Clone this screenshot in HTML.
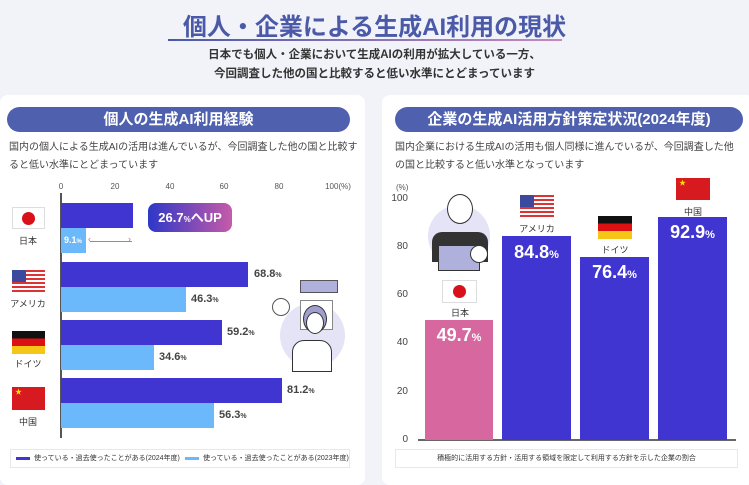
<!DOCTYPE html>
<html><head><meta charset="utf-8"><style>
*{margin:0;padding:0;box-sizing:border-box}
body{width:749px;height:478px;overflow:hidden;background:#f2f3f9;font-family:"Liberation Sans","Noto Sans CJK JP",sans-serif;position:relative;color:#333}
.a{position:absolute}
.card{position:absolute;background:#fff;border-radius:8px}
.pill{position:absolute;background:#4f60ae;border-radius:14px;color:#fff;font-weight:bold;font-size:15px;text-align:center;line-height:25px}
.desc{position:absolute;font-size:10px;line-height:18px;color:#444}
.bar{position:absolute}
.d{background:#4035d1}.l{background:#6bb8fb}
.v{position:absolute;font-size:11px;font-weight:bold;color:#444}
.v small{font-size:7px}
.tk{position:absolute;font-size:8px;color:#555;transform:translateX(-50%)}
.cn{position:absolute;font-size:9px;color:#333;width:40px;text-align:center}
.bv{position:absolute;color:#fff;font-weight:bold;font-size:18px;text-align:center}
.bv small{font-size:11px}
.yl{position:absolute;font-size:10px;color:#444;width:20px;text-align:right}
</style></head><body>
<div class="a" style="left:0;top:7px;width:749px;text-align:center;font-size:24px;font-weight:bold;color:#4a5aa8">個人・企業による生成AI利用の現状</div>
<div class="a" style="left:168px;top:39px;width:394px;height:2px;background:linear-gradient(90deg,#4a5aa8,#c58ac0)"></div>
<div class="a" style="left:0;top:46px;width:749px;text-align:center;font-size:11.5px;line-height:19px;color:#333;font-weight:bold">日本でも個人・企業において生成AIの利用が拡大している一方、<br>今回調査した他の国と比較すると低い水準にとどまっています</div>

<div class="card" style="left:0;top:95px;width:365px;height:390px"></div>
<div class="card" style="left:382px;top:95px;width:372px;height:390px"></div>
<div class="pill" style="left:7px;top:107px;width:343px">個人の生成AI利用経験</div>
<div class="pill" style="left:395px;top:107px;width:348px">企業の生成AI活用方針策定状況(2024年度)</div>
<div class="desc" style="left:9px;top:139px;width:350px">国内の個人による生成AIの活用は進んでいるが、今回調査した他の国と比較すると低い水準にとどまっています</div>
<div class="desc" style="left:395px;top:139px;width:348px">国内企業における生成AIの活用も個人同様に進んでいるが、今回調査した他の国と比較すると低い水準となっています</div>

<!-- left chart -->
<div class="tk" style="left:61px;top:182px">0</div>
<div class="tk" style="left:115px;top:182px">20</div>
<div class="tk" style="left:170px;top:182px">40</div>
<div class="tk" style="left:224px;top:182px">60</div>
<div class="tk" style="left:279px;top:182px">80</div>
<div class="tk" style="left:338px;top:182px">100(%)</div>
<div class="a" style="left:60px;top:193px;width:2px;height:245px;background:#555"></div>
<div class="bar d" style="left:61px;top:203px;width:72px;height:25px"></div>
<div class="bar l" style="left:61px;top:228px;width:25px;height:25px"></div>
<div class="a" style="left:64px;top:235px;font-size:9px;font-weight:bold;color:#fff">9.1<small style="font-size:6px">%</small></div>
<div class="a" style="left:90px;top:241px;width:42px;height:1px;background:#d6679f"></div>
<div class="a" style="left:88px;top:234px;font-size:9px;color:#d6679f">‹</div>
<div class="a" style="left:128px;top:234px;font-size:9px;color:#d6679f">›</div>
<div class="a" style="left:148px;top:203px;width:84px;height:29px;border-radius:8px;background:linear-gradient(90deg,#2d38c8,#c65aa8);color:#fff;font-size:13px;font-weight:bold;text-align:center;line-height:29px">26.7<small style="font-size:8px">%</small>へUP</div>
<div class="bar d" style="left:61px;top:262px;width:187px;height:25px"></div>
<div class="bar l" style="left:61px;top:287px;width:125px;height:25px"></div>
<div class="bar d" style="left:61px;top:320px;width:161px;height:25px"></div>
<div class="bar l" style="left:61px;top:345px;width:93px;height:25px"></div>
<div class="bar d" style="left:61px;top:378px;width:221px;height:25px"></div>
<div class="bar l" style="left:61px;top:403px;width:153px;height:25px"></div>
<div class="v" style="left:254px;top:268px">68.8<small>%</small></div>
<div class="v" style="left:191px;top:293px">46.3<small>%</small></div>
<div class="v" style="left:227px;top:326px">59.2<small>%</small></div>
<div class="v" style="left:159px;top:351px">34.6<small>%</small></div>
<div class="v" style="left:287px;top:384px">81.2<small>%</small></div>
<div class="v" style="left:219px;top:409px">56.3<small>%</small></div>
<!-- flags -->
<div class="a" style="left:12px;top:207px;width:33px;height:22px;border:1px solid #ddd;background:#fff"><div class="a" style="left:9px;top:4px;width:13px;height:13px;border-radius:50%;background:#d8101a"></div></div>
<div class="cn" style="left:8px;top:234px">日本</div>
<div class="a" style="left:12px;top:270px;width:33px;height:23px;background:repeating-linear-gradient(#d33 0 2px,#fff 2px 4px)"><div class="a" style="left:0;top:0;width:14px;height:12px;background:#3b4a9e"></div></div>
<div class="cn" style="left:8px;top:297px">アメリカ</div>
<div class="a" style="left:12px;top:331px;width:33px;height:23px;background:linear-gradient(#111 0 33%,#d11 33% 66%,#f5c518 66%)"></div>
<div class="cn" style="left:8px;top:357px">ドイツ</div>
<div class="a" style="left:12px;top:387px;width:33px;height:23px;background:#d71920;color:#ffde00;font-size:7px;padding-left:3px">★</div>
<div class="cn" style="left:8px;top:415px">中国</div>
<!-- illustration -->
<div class="a" style="left:280px;top:303px;width:65px;height:65px;border-radius:50%;background:#e4e4f6"></div>
<div class="a" style="left:300px;top:300px;width:33px;height:30px;border:1px solid #888;background:#fff"></div>
<div class="a" style="left:300px;top:280px;width:38px;height:13px;background:#b0b0dc;border:1px solid #555"></div>
<div class="a" style="left:303px;top:305px;width:24px;height:28px;border-radius:50%;background:#9f9fcf;border:1px solid #333"></div>
<div class="a" style="left:306px;top:312px;width:18px;height:22px;border-radius:50%;background:#fff;border:1px solid #333"></div>
<div class="a" style="left:292px;top:340px;width:40px;height:32px;border:1px solid #333;border-radius:12px 12px 0 0;background:#fff"></div>
<div class="a" style="left:272px;top:298px;width:18px;height:18px;border-radius:50%;border:1px solid #555;background:#fff"></div>
<!-- legend -->
<div class="a" style="left:10px;top:449px;width:340px;height:19px;border:1px solid #e8e8e8"></div>
<div class="a" style="left:16px;top:457px;width:14px;height:3px;background:#4035d1"></div>
<div class="a" style="left:34px;top:453px;font-size:7px;color:#333">使っている・過去使ったことがある(2024年度)</div>
<div class="a" style="left:185px;top:457px;width:14px;height:3px;background:#6bb8fb"></div>
<div class="a" style="left:203px;top:453px;font-size:7px;color:#333">使っている・過去使ったことがある(2023年度)</div>

<!-- right chart -->
<div class="a" style="left:396px;top:183px;font-size:8px;color:#555">(%)</div>
<div class="yl" style="left:388px;top:193px">100</div>
<div class="yl" style="left:388px;top:241px">80</div>
<div class="yl" style="left:388px;top:289px">60</div>
<div class="yl" style="left:388px;top:337px">40</div>
<div class="yl" style="left:388px;top:386px">20</div>
<div class="yl" style="left:388px;top:434px">0</div>
<div class="a" style="left:418px;top:439px;width:318px;height:2px;background:#666"></div>
<div class="bar" style="left:425px;top:320px;width:68px;height:120px;background:#d6679f"></div>
<div class="bar d" style="left:502px;top:236px;width:69px;height:204px"></div>
<div class="bar d" style="left:580px;top:257px;width:69px;height:183px"></div>
<div class="bar d" style="left:658px;top:217px;width:69px;height:223px"></div>
<div class="bv" style="left:425px;top:325px;width:68px">49.7<small>%</small></div>
<div class="bv" style="left:502px;top:242px;width:69px">84.8<small>%</small></div>
<div class="bv" style="left:580px;top:262px;width:69px">76.4<small>%</small></div>
<div class="bv" style="left:658px;top:222px;width:69px">92.9<small>%</small></div>
<div class="a" style="left:442px;top:280px;width:35px;height:23px;border:1px solid #ddd;background:#fff"><div class="a" style="left:10px;top:4px;width:13px;height:13px;border-radius:50%;background:#d8101a"></div></div>
<div class="cn" style="left:440px;top:306px">日本</div>
<div class="a" style="left:520px;top:195px;width:34px;height:23px;background:repeating-linear-gradient(#d33 0 2px,#fff 2px 4px)"><div class="a" style="left:0;top:0;width:14px;height:12px;background:#3b4a9e"></div></div>
<div class="cn" style="left:517px;top:222px">アメリカ</div>
<div class="a" style="left:598px;top:216px;width:34px;height:23px;background:linear-gradient(#111 0 33%,#d11 33% 66%,#f5c518 66%)"></div>
<div class="cn" style="left:595px;top:243px">ドイツ</div>
<div class="a" style="left:676px;top:178px;width:34px;height:22px;background:#d71920;color:#ffde00;font-size:7px;padding-left:3px">★</div>
<div class="cn" style="left:673px;top:205px">中国</div>
<div class="a" style="left:428px;top:205px;width:62px;height:62px;border-radius:50%;background:#e4e4f6"></div>
<div class="a" style="left:447px;top:194px;width:26px;height:30px;border-radius:50%;background:#fff;border:1px solid #333"></div>
<div class="a" style="left:432px;top:232px;width:56px;height:30px;background:#333;border-radius:10px 10px 0 0"></div>
<div class="a" style="left:438px;top:245px;width:42px;height:26px;background:#b0b0dc;border:1px solid #333"></div>
<div class="a" style="left:470px;top:245px;width:18px;height:18px;border-radius:50%;background:#fff;border:1px solid #333"></div>
<div class="a" style="left:395px;top:449px;width:343px;height:19px;border:1px solid #e8e8e8;font-size:7px;text-align:center;line-height:17px;color:#333">積極的に活用する方針・活用する領域を限定して利用する方針を示した企業の割合</div>
</body></html>
